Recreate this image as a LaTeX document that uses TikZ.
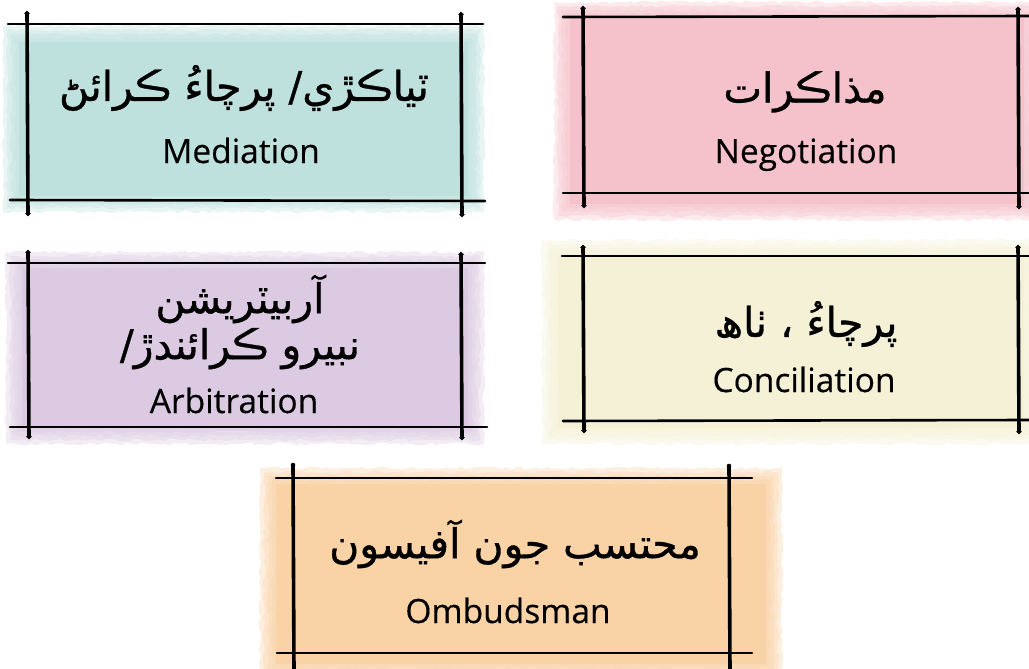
\documentclass[tikz,border=0pt]{standalone}
\usepackage{fontspec}
\usetikzlibrary{decorations.pathmorphing,calc,arrows.meta}
\TeXXeTstate=1
\newfontfamily\arabicfont[Script=Arabic,FakeBold=0.8]{DejaVu Sans}
\newfontfamily\latinfont[FakeBold=0.3]{Open Sans}
\definecolor{teal}{RGB}{190,225,221}
\definecolor{pinkw}{RGB}{245,194,203}
\definecolor{purplew}{RGB}{220,202,226}
\definecolor{creamw}{RGB}{244,241,214}
\definecolor{orangew}{RGB}{249,210,166}
\tikzset{
  wash/.style={fill=#1, fill opacity=0.35, draw=none, decorate, decoration={random steps, segment length=5pt, amplitude=1.5pt}},
  ink/.style={line width=3.6pt, line cap=round, black, {Circle[length=4.6pt]}-{Circle[length=4.6pt]}},
  inkthin/.style={line width=2.6pt, line cap=round, black},
  ar/.style={font=\arabicfont\fontsize{41}{46}\selectfont, align=center, inner sep=0pt},
  en/.style={font=\latinfont\fontsize{33.5}{38}\selectfont, inner sep=0pt, anchor=base},
}
\newcommand\washbox[5]{%
  \foreach \d in {0,4,8,12}{\fill[wash=#5] ($(#1+\d,#2+\d)$) rectangle ($(#3-\d,#4-\d)$);}%
  \fill[fill=#5, draw=none] (#1+16,#2+16) rectangle (#3-16,#4-16);}
\begin{document}
\begin{tikzpicture}[x=1pt,y=-1pt]
\useasboundingbox (0,0) rectangle (1029,669);
% washes
\washbox{3}{26}{484}{212}{teal}
\washbox{554}{2}{1040}{220}{pinkw}
\washbox{6}{252}{484}{444}{purplew}
\washbox{542}{240}{1040}{444}{creamw}
\washbox{260}{468}{782}{680}{orangew}
% box 1 lines
\draw[inkthin] (8,24) -- (483,24);
\draw[inkthin] (10,200) -- (485,201);
\draw[ink] (27,11) -- (28,216);
\draw[ink] (461,12) -- (462,217);
% box 2 lines
\draw[inkthin] (563,17) -- (1029,16);
\draw[inkthin] (563,193) -- (1029,193);
\draw[ink] (583,6) -- (584,208);
\draw[ink] (1018,7) -- (1019,209);
% box 3 lines
\draw[inkthin] (8,263) -- (485,263);
\draw[inkthin] (10,427) -- (487,427);
\draw[ink] (28,250) -- (29,439);
\draw[ink] (461,252) -- (462,440);
% box 4 lines
\draw[inkthin] (562,256) -- (1029,256);
\draw[inkthin] (563,421) -- (1029,420);
\draw[ink] (583,245) -- (584,433);
\draw[ink] (1018,245) -- (1019,434);
% box 5 lines
\draw[inkthin] (276,478) -- (752,478);
\draw[inkthin] (277,653) -- (752,653);
\draw[ink,-] (293,465) -- (294,672);
\draw[ink,-] (729,466) -- (730,672);
\fill (293,465) circle (2.3pt) (729,466) circle (2.3pt);
% texts
\node[ar] (medar) at (244,88) {\beginR ٽياڪڙي/ پرچاءُ ڪرائڻ\endR};
\node[en] (meden) at (241,163) {Mediation};
\node[ar] (negar) at (805,92) {\beginR مذاڪرات\endR};
\node[en] (negen) at (806,163) {Negotiation};
\node[ar] (arbar) at (240,322) {\beginR آربيٽريشن\endR\\\beginR نبيرو ڪرائندڙ/\endR};
\node[en] (arben) at (234,413) {Arbitration};
\node[ar] (conar) at (806,324) {\beginR پرچاءُ ، ٺاھ\endR};
\node[en] (conen) at (804,392) {Conciliation};
\node[ar] (ombar) at (515,544) {\beginR محتسب جون آفيسون\endR};
\node[en] (omben) at (508,623) {Ombudsman};
\end{tikzpicture}
\end{document}
